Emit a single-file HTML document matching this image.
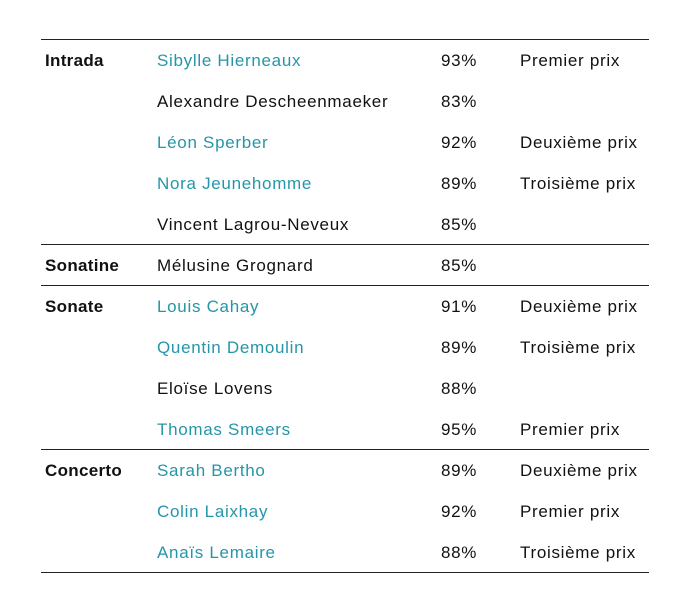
<!DOCTYPE html>
<html><head><meta charset="utf-8"><style>
body{margin:0;width:686px;height:608px;background:#fff;font-family:"Liberation Sans",sans-serif;font-size:17px;letter-spacing:0.7px;color:#111;position:relative;overflow:hidden}
.l{position:absolute;left:41px;width:608px;height:1px;background:#222}
.t{position:absolute;white-space:nowrap;line-height:20px}
.b{font-weight:bold;letter-spacing:0.3px}
.c{color:#2596a8}
</style></head><body>
<div class="l" style="top:39px"></div>
<div class="l" style="top:244px"></div>
<div class="l" style="top:285px"></div>
<div class="l" style="top:449px"></div>
<div class="l" style="top:572px"></div>
<div id="r"></div>
<script>
var rows=[
["Intrada","Sibylle Hierneaux","93%","Premier prix",1],
["","Alexandre Descheenmaeker","83%","",0],
["","Léon Sperber","92%","Deuxième prix",1],
["","Nora Jeunehomme","89%","Troisième prix",1],
["","Vincent Lagrou-Neveux","85%","",0],
["Sonatine","Mélusine Grognard","85%","",0],
["Sonate","Louis Cahay","91%","Deuxième prix",1],
["","Quentin Demoulin","89%","Troisième prix",1],
["","Eloïse Lovens","88%","",0],
["","Thomas Smeers","95%","Premier prix",1],
["Concerto","Sarah Bertho","89%","Deuxième prix",1],
["","Colin Laixhay","92%","Premier prix",1],
["","Anaïs Lemaire","88%","Troisième prix",1]];
var h="";
rows.forEach(function(r,i){var y=51+i*41;
h+='<div class="t b" style="left:45px;top:'+y+'px">'+r[0]+'</div>';
h+='<div class="t'+(r[4]?' c':'')+'" style="left:157px;top:'+y+'px">'+r[1]+'</div>';
h+='<div class="t" style="left:441px;top:'+y+'px">'+r[2]+'</div>';
h+='<div class="t" style="left:520px;top:'+y+'px">'+r[3]+'</div>';});
document.getElementById("r").innerHTML=h;
</script>
</body></html>
